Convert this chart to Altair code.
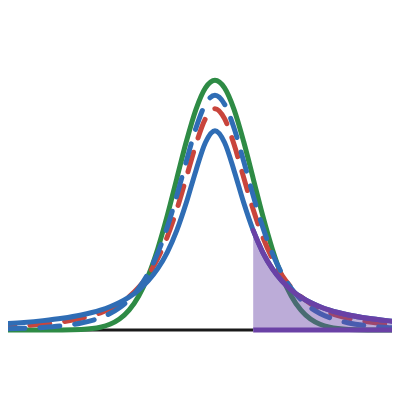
import altair as alt
import pandas as pd

# x positions (in standard units)
xs = [-5.5, -5.0, -4.5, -4.0, -3.5, -3.0, -2.75, -2.5, -2.25, -2.0, -1.75, -1.5, -1.25, -1.0,
      -0.75, -0.5, -0.25, 0.0, 0.25, 0.5, 0.75, 1.0, 1.25, 1.5, 1.75, 2.0, 2.25, 2.5, 2.75,
      3.0, 3.5, 4.0, 4.5, 5.0]

# densities
normal = [0.0, 0.0, 0.0, 0.0001, 0.0009, 0.0044, 0.0091, 0.0175, 0.0317, 0.0540, 0.0863, 0.1295,
          0.1826, 0.2420, 0.3011, 0.3521, 0.3867, 0.3989, 0.3867, 0.3521, 0.3011, 0.2420, 0.1826,
          0.1295, 0.0863, 0.0540, 0.0317, 0.0175, 0.0091, 0.0044, 0.0009, 0.0001, 0.0, 0.0]
t2 = [0.0055, 0.0071, 0.0095, 0.0131, 0.0186, 0.0274, 0.0338, 0.0422, 0.0533, 0.0680, 0.0878,
      0.1141, 0.1487, 0.1925, 0.2438, 0.2963, 0.3376, 0.3536, 0.3376, 0.2963, 0.2438, 0.1925,
      0.1487, 0.1141, 0.0878, 0.0680, 0.0533, 0.0422, 0.0338, 0.0274, 0.0186, 0.0131, 0.0095, 0.0071]
t4 = [0.0017, 0.0027, 0.0041, 0.0067, 0.0113, 0.0197, 0.0264, 0.0357, 0.0485, 0.0663, 0.0905,
      0.1229, 0.1644, 0.2147, 0.2699, 0.3223, 0.3608, 0.3750, 0.3608, 0.3223, 0.2699, 0.2147,
      0.1644, 0.1229, 0.0905, 0.0663, 0.0485, 0.0357, 0.0264, 0.0197, 0.0113, 0.0067, 0.0041, 0.0027]
t1 = [0.0102, 0.0122, 0.0150, 0.0187, 0.0240, 0.0318, 0.0372, 0.0439, 0.0525, 0.0637, 0.0784,
      0.0979, 0.1242, 0.1592, 0.2037, 0.2546, 0.2996, 0.3183, 0.2996, 0.2546, 0.2037, 0.1592,
      0.1242, 0.0979, 0.0784, 0.0637, 0.0525, 0.0439, 0.0372, 0.0318, 0.0240, 0.0187, 0.0150, 0.0122]

threshold = 1.0
x_left = -5.5
x_right = 5.0

XDOM = [-5.419, 4.634]
YDOM = [-0.0990, 0.5144]

df = pd.DataFrame({"x": xs, "normal": normal, "t2": t2, "t4": t4, "t1": t1})
tail = df[df["x"] >= threshold]

xenc = alt.X("x:Q", scale=alt.Scale(domain=XDOM, nice=False, zero=False), axis=None)

def yenc(field):
    return alt.Y(f"{field}:Q", scale=alt.Scale(domain=YDOM, nice=False, zero=False), axis=None)

base = alt.Chart(df)

black_base = alt.Chart(pd.DataFrame({"x": [x_left], "x2": [threshold], "y": [0.0]})).mark_rule(
    color="#1a1a1a", strokeWidth=3, clip=True
).encode(x=xenc, x2="x2:Q", y=yenc("y"))

green = base.mark_line(color="#2e8b45", strokeWidth=5, interpolate="monotone", clip=True,
                       strokeCap="round").encode(x=xenc, y=yenc("normal"))
red = base.mark_line(color="#c9453c", strokeWidth=5, interpolate="monotone", clip=True,
                     strokeDash=[20, 15], strokeDashOffset=10, strokeCap="round").encode(x=xenc, y=yenc("t2"))
blued = base.mark_line(color="#2f6db5", strokeWidth=5, interpolate="monotone", clip=True,
                       strokeDash=[20, 15], strokeCap="round").encode(x=xenc, y=yenc("t4"))
blue = base.mark_line(color="#2f6db5", strokeWidth=5, interpolate="monotone", clip=True,
                      strokeCap="round").encode(x=xenc, y=yenc("t1"))

area = alt.Chart(tail).mark_area(color="#6a46a8", opacity=0.45, interpolate="monotone", clip=True).encode(
    x=xenc, y=yenc("t1"), y2=alt.datum(0.0))
pline = alt.Chart(tail).mark_line(color="#6a41a6", strokeWidth=5, interpolate="monotone", clip=True,
                                  strokeCap="round").encode(x=xenc, y=yenc("t1"))
pbase = alt.Chart(pd.DataFrame({"x": [threshold], "x2": [x_right], "y": [0.0]})).mark_rule(
    color="#6a41a6", strokeWidth=5, clip=True
).encode(x=xenc, x2="x2:Q", y=yenc("y"))

chart = alt.layer(black_base, green, red, blued, blue, area, pline, pbase).properties(
    width=384, height=384, padding=0
).configure_view(stroke=None)

chart.save("out.html", embed_options={"renderer": "svg", "actions": False})
